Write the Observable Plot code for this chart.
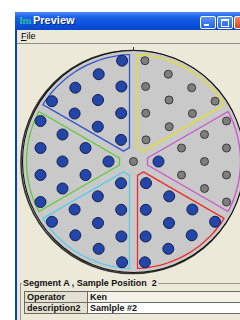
<!DOCTYPE html>
<html><head><meta charset="utf-8">
<script src="https://cdn.jsdelivr.net/npm/d3@7"></script>
<script src="https://cdn.jsdelivr.net/npm/@observablehq/plot@0.6"></script>
<style>
html,body{margin:0;padding:0;background:#fff;width:240px;height:320px;overflow:hidden;font-family:"Liberation Sans","DejaVu Sans",sans-serif;}
#win{position:absolute;left:15px;top:12px;width:260px;height:330px;background:#ECE9D8;border-left:2px solid #0A3FC4;}
#title{position:absolute;left:-2px;top:0;width:262px;height:18px;background:linear-gradient(#4A8CF6,#1A5FE6 30%,#0B50DB 70%,#0A46C8);}
#icon{position:absolute;left:4px;top:4px;font:bold 9px "DejaVu Serif",serif;color:#2AB5A0;letter-spacing:-1px;}
#ttext{position:absolute;left:18px;top:2px;font:bold 11px "Liberation Sans",sans-serif;color:#fff;text-shadow:1px 1px 0 #0A2A80;}
.btn{position:absolute;top:4px;width:14px;height:11px;border:1px solid #fff;border-radius:2px;background:linear-gradient(#5B94F8,#2563E8);}
#bmin{left:185px}#bmax{left:202px}#bclose{left:219px;background:linear-gradient(#F08A6A,#D8431C);}
#bmin:after{content:"";position:absolute;left:3px;top:7px;width:5px;height:2px;background:#fff;}
#bmax:after{content:"";position:absolute;left:3px;top:2px;width:6px;height:5px;border:1px solid #fff;border-top-width:2px;}
#menu{position:absolute;left:0;top:18px;width:100%;height:13px;background:#ECE9D8;font:9px "Liberation Sans",sans-serif;color:#000;}
#menu span{position:absolute;left:4px;top:1px;}
#sep{position:absolute;left:0;top:31px;width:100%;height:1px;background:#8E8C80;}
#chart{position:absolute;left:0;top:33px;}
#grp{position:absolute;left:0;top:266px;width:100%;}
#grpline{position:absolute;left:3px;top:5px;width:240px;height:40px;border-top:1px solid #9A9888;border-left:1px solid #9A9888;}
#grplabel{position:absolute;left:5px;top:0;background:#ECE9D8;font:bold 9px "Liberation Sans",sans-serif;padding:0 1px;color:#111;}
table{position:absolute;left:7px;top:279px;border-collapse:collapse;font:bold 9px "Liberation Sans",sans-serif;color:#111;}
td{border:1px solid #6E6C62;height:10px;padding:0 2px;line-height:10px;}
td.h{width:58px;background:#E4E1D2;}
td.v{width:160px;}
tr.r1 td.v{background:#F4F2E8;}
tr.r2 td.v{background:#fff;}
</style></head>
<body>
<div id="win">
  <div id="title"><span id="icon">Im</span><span id="ttext">Preview</span>
    <div class="btn" id="bmin"></div><div class="btn" id="bmax"></div><div class="btn" id="bclose"></div></div>
  <div id="menu"><span><u>F</u>ile</span></div>
  <div id="sep"></div>
  <div id="chart"></div>
  <div id="grp"><div id="grpline"></div><span id="grplabel">Segment A , Sample Position&nbsp; 2</span></div>
  <table>
    <tr class="r1"><td class="h">Operator</td><td class="v">Ken</td></tr>
    <tr class="r2"><td class="h">description2</td><td class="v">Samlple #2</td></tr>
  </table>
</div>
<script>
// Segments of the sample tray (bisector direction in degrees, outline colour)
const segNames  = ["A","B","C","D","E","F"];
const segAngles = [120, 180, 240, 300, 0, 60];
const segColors = ["#3556CC","#62C83A","#5CCBEA","#EE2A2A","#C955C9","#E6DE2A"];
// Sample positions inside one segment (local coords: u along bisector, v across)
const posU = [25, 48, 48, 71, 71, 71, 93, 93, 93, 93];
const posV = [0, -13.5, 13.5, -27, 0, 27, -40.5, -13.5, 13.5, 40.5];
// Loaded (1) / empty (0) for each position, per segment
const loaded = [
  [1,1,1,1,1,1,1,1,1,1],
  [1,1,1,1,1,1,1,1,1,1],
  [1,1,1,1,1,1,1,1,1,1],
  [1,1,1,1,1,1,1,1,1,1],
  [1,0,0,0,0,0,0,0,0,0],
  [0,0,0,0,0,0,0,0,0,0]
];
const trayRadius = 111;
const outlineRadius = 107;
const outlineInset = 4;
const outlineTip = 14;

const rot = (u, v, a) => {
  const t = a * Math.PI / 180;
  return [u * Math.cos(t) - v * Math.sin(t), u * Math.sin(t) + v * Math.cos(t)];
};

const dots = [];
segAngles.forEach((a, s) => {
  posU.forEach((u, i) => {
    const [x, y] = rot(u, posV[i], a);
    dots.push({seg: segNames[s], pos: i + 1, x, y, loaded: loaded[s][i]});
  });
});

// Outline polygon for each segment
const k = Math.tan(Math.PI / 6), c = outlineInset / Math.cos(Math.PI / 6);
const uEnd = (k * c + Math.sqrt(k * k * c * c - (1 + k * k) * (c * c - outlineRadius ** 2))) / (1 + k * k);
const vEnd = k * uEnd - c;
const th = Math.atan2(vEnd, uEnd);
const wTip = k * outlineTip - c;
const outline = [];
segAngles.forEach((a, s) => {
  const local = [[outlineTip, -wTip]];
  for (let j = 0; j <= 40; j++) {
    const t = -th + 2 * th * j / 40;
    local.push([outlineRadius * Math.cos(t), outlineRadius * Math.sin(t)]);
  }
  local.push([outlineTip, wTip], [outlineTip, -wTip]);
  local.forEach(([u, v]) => {
    const [x, y] = rot(u, v, a);
    outline.push({seg: segNames[s], color: segColors[s], x, y});
  });
});

const chart = Plot.plot({
  width: 223, height: 232,
  margin: 0,
  x: {domain: [-116, 107], axis: null},
  y: {domain: [-116, 116], axis: null},
  color: {type: "identity"},
  style: {background: "transparent", overflow: "visible"},
  marks: [
    Plot.dot([{x: -1, y: -0.5}], {x: "x", y: "y", r: trayRadius + 0.5, fill: "none", stroke: "#333", strokeWidth: 1.6}),
    Plot.dot([{x: 0, y: 0}], {x: "x", y: "y", r: trayRadius, fill: "#C9C9C9", stroke: "#111", strokeWidth: 1.1}),
    Plot.ruleX([0], {y1: trayRadius - 1, y2: trayRadius + 3, stroke: "#333"}),
    Plot.line(outline, {x: "x", y: "y", z: "seg", stroke: "color", strokeWidth: 1.3, curve: "linear"}),
    Plot.dot([{x: 0, y: 0}], {x: "x", y: "y", r: 4, fill: "#7E7E7E", stroke: "#3A3A3A", strokeWidth: 1}),
    Plot.dot(dots.filter(d => !d.loaded), {x: "x", y: "y", r: 4, fill: "#7E7E7E", stroke: "#3A3A3A", strokeWidth: 1}),
    Plot.dot(dots.filter(d => d.loaded), {x: "x", y: "y", r: 5.5, fill: "#2446A8", stroke: "#13204F", strokeWidth: 1})
  ]
});
document.getElementById("chart").appendChild(chart);
</script>
</body></html>
